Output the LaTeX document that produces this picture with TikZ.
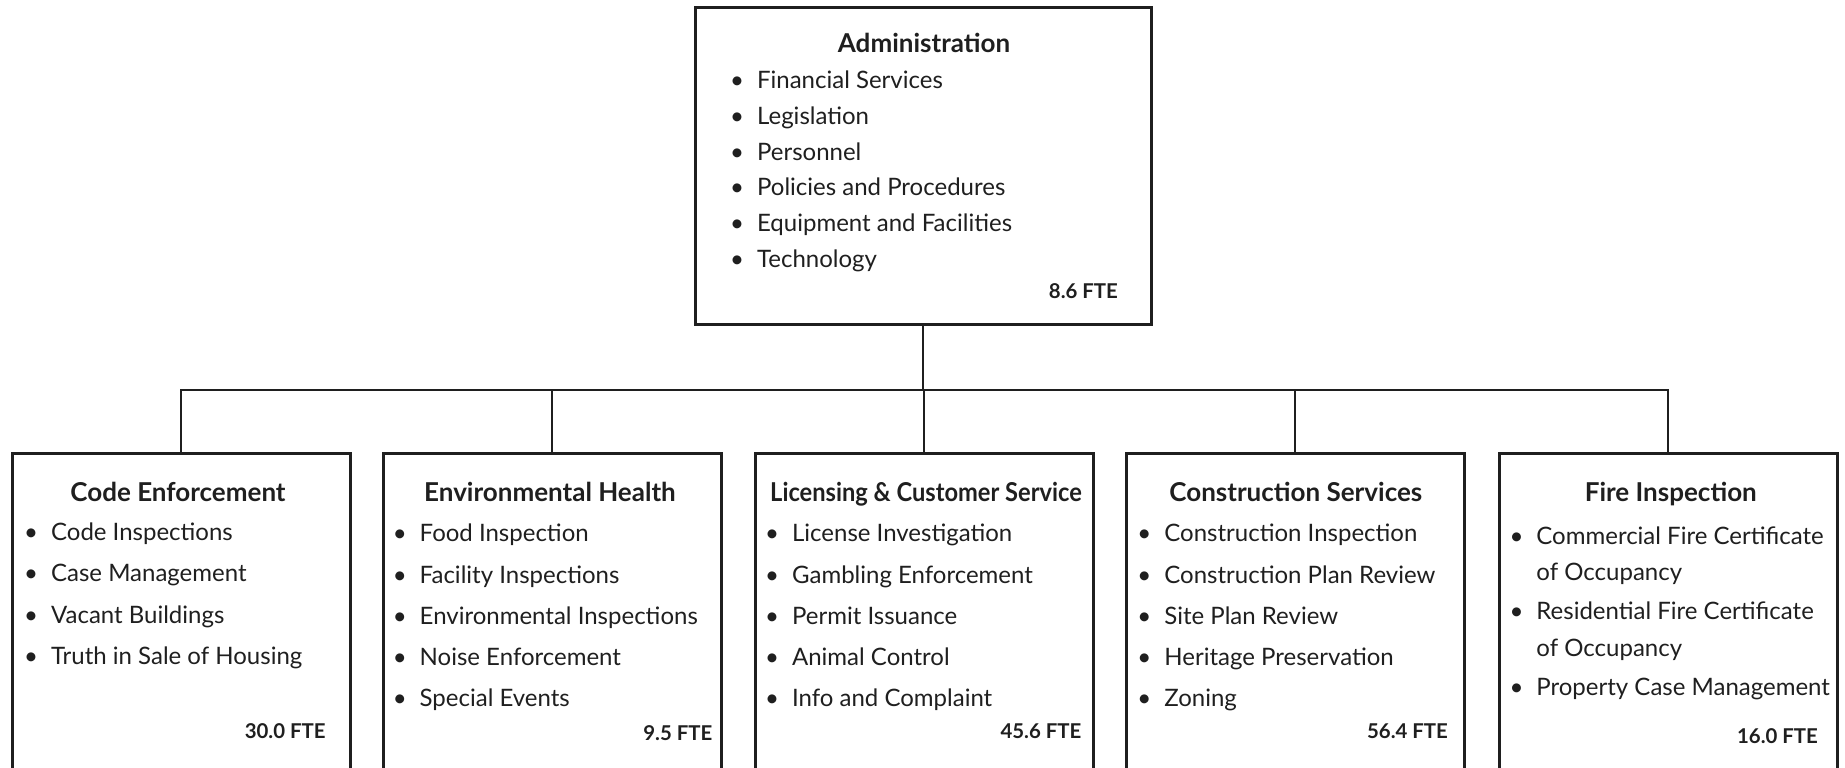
\documentclass[tikz,border=0pt]{standalone}
\usepackage{fontspec}
\setmainfont{Lato}
\newcommand{\bul}{\llap{\textbullet\hspace{6.5pt}}}
\begin{document}
\begin{tikzpicture}[x=0.5pt,y=-0.5pt,
    dept/.style={draw=ink,line width=1.5pt,minimum width=169pt,minimum height=180pt,inner sep=0pt},
    head/.style={anchor=base,inner sep=0pt,text=ink,font=\bfseries\fontsize{13}{15}\selectfont},
    duties/.style={anchor=base west,inner sep=0pt,align=left,text=ink,font=\fontsize{12}{20.6}\selectfont},
    fte/.style={anchor=base east,inner sep=0pt,text=ink,font=\bfseries\fontsize{10.2}{12}\selectfont},
    link/.style={draw=ink,line width=1pt}]
    \colorlet{ink}{black!88}
    \useasboundingbox (0,0) rectangle (1845,767);
    % boxes
    \node[dept,minimum width=228pt,minimum height=158.5pt] (admin) at (923,165.5) {};
    \foreach \nm/\cx in {ce/181,eh/552,lcs/924,cs/1295,fi/1668}
        \node[dept] (\nm) at (\cx,633) {};
    % connectors
    \coordinate (hub) at (923,389.5);
    \draw[link] (admin.south) -- (hub);
    \foreach \nm in {ce,eh,lcs,cs,fi}
        \draw[link] (hub) -| (\nm.north);
    % administration (lists sit on the baseline of their last line)
    \node[head] (admin-head) at (924,52) {Administration};
    \node[duties,font=\fontsize{12}{17.9}\selectfont] (admin-list) at (756.7,267.5)
        {\bul Financial Services\\ \bul Legislation\\ \bul Personnel\\
         \bul Policies and Procedures\\ \bul Equipment and Facilities\\ \bul Technology};
    \node[fte] (admin-fte) at (1118.3,298.3) {8.6 FTE};
    % code enforcement
    \node[head] (ce-head) at (178,501.7) {Code Enforcement};
    \node[duties] (ce-list) at (50.7,664.3)
        {\bul Code Inspections\\ \bul Case Management\\ \bul Vacant Buildings\\
         \bul Truth in Sale of Housing};
    \node[fte] (ce-fte) at (326,738.3) {30.0 FTE};
    % environmental health
    \node[head] (eh-head) at (550,501.7) {Environmental Health};
    \node[duties] (eh-list) at (419.3,706.7)
        {\bul Food Inspection\\ \bul Facility Inspections\\ \bul Environmental Inspections\\
         \bul Noise Enforcement\\ \bul Special Events};
    \node[fte] (eh-fte) at (712.7,740) {9.5 FTE};
    % licensing
    \node[head] (lcs-head) at (926,501.7) {\scalebox{0.91}[1]{Licensing \& Customer Service}};
    \node[duties] (lcs-list) at (791.7,706.7)
        {\bul License Investigation\\ \bul Gambling Enforcement\\ \bul Permit Issuance\\
         \bul Animal Control\\ \bul Info and Complaint};
    \node[fte] (lcs-fte) at (1081.7,738.3) {45.6 FTE};
    % construction services
    \node[head] (cs-head) at (1295.8,501.7) {Construction Services};
    \node[duties] (cs-list) at (1164,706.7)
        {\bul Construction Inspection\\ \bul Construction Plan Review\\ \bul Site Plan Review\\
         \bul Heritage Preservation\\ \bul Zoning};
    \node[fte] (cs-fte) at (1448.3,738.3) {56.4 FTE};
    % fire inspection
    \node[head] (fi-head) at (1670.8,501.7) {Fire Inspection};
    \node[duties,font=\fontsize{12}{18.25}\selectfont] (fi-list) at (1536,695)
        {\bul Commercial Fire Certificate\\ of Occupancy\\[1.25pt]
         \bul Residential Fire Certificate\\ of Occupancy\\[1.25pt]
         \bul Property Case Management};
    \node[fte] (fi-fte) at (1818.3,743.3) {16.0 FTE};
\end{tikzpicture}
\end{document}
